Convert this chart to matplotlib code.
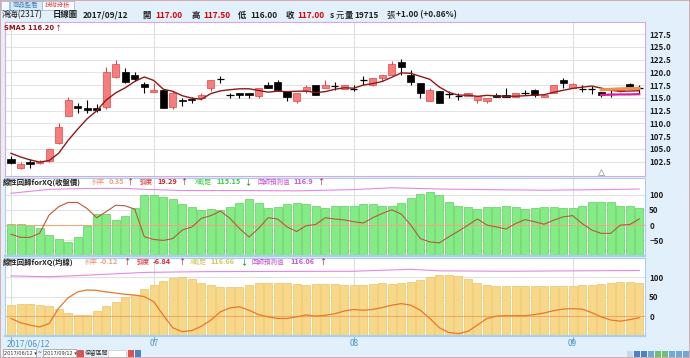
import matplotlib
matplotlib.use('Agg')
import matplotlib.pyplot as plt
from matplotlib.patches import Rectangle
import numpy as np
import pandas as pd

plt.rcParams['font.family'] = ['Noto Sans CJK TC', 'DejaVu Sans']

# daily candles 2017/06/12 - 2017/09/12
opens = [103.0, 101.2, 102.5, 102.3, 102.6, 106.1, 111.5, 113.5, 113.0, 113.0,
         113.3, 119.1, 120.0, 119.5, 117.7, 116.1, 116.6, 113.3, 114.6, 114.8,
         114.9, 116.9, 118.7, 115.6, 116.0, 116.0, 115.4, 117.5, 118.1, 116.4,
         114.4, 116.4, 117.5, 117.0, 117.4, 116.7, 116.7, 118.5, 117.5, 118.9,
         119.5, 122.1, 119.5, 118.0, 114.5, 116.4, 115.8, 115.4, 115.3, 114.6,
         114.5, 115.5, 115.5, 115.1, 115.9, 116.6, 115.1, 116.0, 118.6, 117.0,
         116.8, 116.7, 116.1, 115.7, 116.4, 117.7, 117.0]
highs = [103.6, 102.5, 103.0, 102.8, 105.0, 110.0, 115.1, 114.1, 114.6, 113.9,
         121.0, 122.5, 120.9, 120.0, 118.2, 117.9, 116.6, 116.4, 115.0, 115.1,
         116.0, 118.6, 119.4, 116.0, 116.0, 116.0, 117.0, 118.1, 118.5, 116.4,
         116.0, 117.5, 117.6, 118.5, 118.1, 117.5, 117.5, 119.4, 119.0, 119.6,
         122.2, 122.6, 120.4, 118.0, 117.0, 116.4, 116.4, 116.0, 116.0, 115.4,
         115.0, 116.0, 116.9, 116.0, 116.5, 116.8, 115.6, 117.5, 119.0, 117.9,
         117.5, 117.4, 116.1, 116.5, 117.0, 118.0, 117.5]
lows = [102.0, 101.1, 101.2, 102.0, 102.5, 106.0, 111.5, 112.1, 112.1, 112.3,
        112.9, 119.0, 118.0, 118.3, 116.0, 116.1, 113.0, 112.9, 113.5, 114.0,
        114.7, 116.4, 117.9, 114.9, 114.9, 114.9, 114.9, 117.0, 116.3, 114.5,
        114.0, 116.0, 115.5, 117.0, 116.6, 116.7, 116.4, 117.6, 117.4, 118.4,
        119.5, 119.6, 117.6, 115.0, 114.5, 114.0, 114.9, 114.6, 115.3, 114.1,
        114.0, 115.1, 115.1, 115.1, 115.5, 115.1, 115.1, 116.0, 117.0, 117.0,
        116.2, 115.8, 115.2, 115.2, 116.2, 116.9, 116.0]
closes = [102.2, 102.0, 102.1, 102.4, 104.9, 109.4, 114.6, 113.1, 112.6, 112.7,
          120.0, 121.6, 118.1, 118.8, 117.1, 116.6, 113.0, 116.0, 114.5, 114.7,
          115.6, 118.5, 118.7, 115.6, 115.6, 115.6, 116.9, 117.0, 116.6, 115.1,
          116.0, 117.1, 115.5, 117.5, 117.4, 117.5, 116.7, 118.5, 119.0, 119.5,
          121.6, 121.0, 118.1, 116.0, 116.6, 114.0, 115.8, 115.4, 116.0, 115.4,
          115.0, 115.2, 115.1, 116.0, 115.9, 115.6, 115.6, 117.5, 117.9, 117.8,
          116.8, 116.7, 115.5, 115.7, 116.9, 117.0, 117.0]
prior_closes = [105.5, 105.0, 104.5, 103.5]  # before the window, estimated

# regression overlay on the last 5 days
reg_idx = [62, 63, 64, 65, 66]
reg_close_line = [116.6, 116.7, 116.8, 116.85, 116.9]
reg_ma_line = [115.6, 115.65, 115.7, 115.7, 115.75]

# panel 2: 線性回歸forXQ(收盤價)
close_bars = [2, 3, -1, -9, -32, -44, -56, -39, -3, 35, 35, 16, 31, 55, 98, 98, 91,
              85, 68, 60, 50, 53, 49, 58, 72, 85, 72, 55, 59, 68, 73, 68, 63, 55,
              62, 63, 64, 70, 68, 64, 61, 72, 88, 101, 107, 100, 75, 64, 59, 52,
              60, 60, 62, 58, 52, 55, 60, 59, 55, 55, 64, 75, 77, 74, 64, 62, 56]
close_line = [-30, -40, -40, -27, 33, 60, 74, 74, 54, 24, 44, 65, 63, 52, -38, -47,
              -50, -44, -16, -6, 22, 31, 46, 22, -11, -39, -11, 24, 20, -6, -21,
              -2, 2, 24, 20, 17, 11, 7, 24, 38, 50, 36, 0, -44, -55, -58, -38, -20,
              0, 20, 0, -6, -13, 5, 18, 11, 3, 16, 27, 31, 5, -16, -27, -27, 0, 2, 20]
pink2_idx = [0, 4, 8, 12, 14, 18, 24, 30, 36, 40, 45, 50, 56, 62, 66]
pink2_val = [104, 117, 120, 120, 117, 113, 113, 112, 116, 122, 118, 116, 114, 116, 118]

# panel 3: 線性回歸forXQ(均線)
ma_bars = [28, 30, 30, 29, 25, 18, 8, 2, 4, 14, 27, 37, 50, 55, 69, 79, 90, 98,
           101, 95, 86, 79, 74, 74, 74, 81, 84, 84, 84, 84, 82, 81, 82, 82, 82,
           80, 79, 81, 83, 85, 83, 85, 88, 93, 101, 106, 106, 102, 95, 86, 80,
           78, 78, 77, 77, 77, 77, 77, 77, 77, 79, 81, 83, 86, 87, 87, 84]
ma_line = [-6, -17, -23, -28, -19, 20, 47, 62, 67, 66, 62, 59, 56, 54, 50, 37, 2,
           -30, -40, -37, -26, -10, 11, 21, 24, 15, 4, -2, -6, -6, -2, 3, 0, 2, 6,
           13, 17, 15, 17, 22, 28, 32, 28, 15, -6, -30, -42, -45, -39, -23, -6, 0,
           1, 1, 1, 4, 8, 14, 18, 19, 18, 9, -2, -10, -13, -9, -4]
pink3_idx = [0, 4, 8, 14, 20, 36, 42, 45, 52, 59, 66]
pink3_val = [103, 101, 105, 112, 114, 115, 120, 116, 115, 116, 117]

month_idx = [0, 15, 36, 59]
month_lbl = ['2017/06/12', '07', '08', '09']

W, H = 690, 358
BG = '#e2f0fb'
fig = plt.figure(figsize=(W / 100, H / 100), dpi=100, facecolor=BG)


def px_axes(x0, y0, x1, y1):
    return fig.add_axes([x0 / W, 1 - y1 / H, (x1 - x0) / W, (y1 - y0) / H])


def ftext(x, y, s, **kw):
    kw.setdefault('fontsize', 5.6)
    kw.setdefault('va', 'center')
    fig.text(x / W, 1 - y / H, s, **kw)


n = len(closes)
idx = np.arange(n)
o = np.array(opens)
c = np.array(closes)
hi = np.array(highs)
lo = np.array(lows)
xlim = (-0.63, n - 0.4)

# ---- price panel
ax1 = px_axes(5, 22, 645, 176)
ax1.set_xlim(*xlim)
ax1.set_ylim(99.7, 129.9)
for v in np.arange(102.5, 128, 2.5):
    ax1.axhline(v, color='#e4e4e4', lw=0.8, zorder=0)
for m in month_idx:
    ax1.axvline(m, color='#dedede', lw=0.8, zorder=0)

up = c > o
down = c < o
doji = ~up & ~down
red_fill, red_edge = '#f87c7c', '#d84848'
ax1.vlines(idx[up], lo[up], hi[up], color=red_edge, lw=0.8, zorder=2)
ax1.vlines(idx[~up], lo[~up], hi[~up], color='black', lw=0.8, zorder=2)
ax1.bar(idx[up], (c - o)[up], bottom=o[up], width=0.75, color=red_fill,
        edgecolor=red_edge, lw=0.5, zorder=3)
ax1.bar(idx[down], (o - c)[down], bottom=c[down], width=0.75, color='black',
        edgecolor='black', lw=0.5, zorder=3)
ax1.hlines(c[doji], idx[doji] - 0.38, idx[doji] + 0.38, color='black', lw=0.9, zorder=3)

sma5 = pd.Series(prior_closes + closes).rolling(5).mean().to_numpy()[len(prior_closes):]
ax1.plot(idx, sma5, color='#8b1a1a', lw=1.0, zorder=4)
ax1.plot(reg_idx, reg_close_line, color='#f09050', lw=2.2, zorder=5)
ax1.plot(reg_idx, reg_ma_line, color='#e0209a', lw=1.6, zorder=5)
ax1.plot([reg_idx[0]], [100.5], marker='^', ms=4, mfc='white', mec='#b0b0b0', mew=0.7)

ax1.set_yticks(np.arange(102.5, 128, 2.5))
ax1.set_yticklabels([f'{v:.1f}' for v in np.arange(102.5, 128, 2.5)])
for s in ax1.spines.values():
    s.set_color('#d8a8e0')
ftext(4, 28, 'SMA5 116.20', color='#a01010', fontweight='bold', fontsize=4.9,
      family=['DejaVu Sans'])
ftext(54, 28, '↑', color='#a01010', fontsize=5.0)

# ---- panel 2
ax2 = px_axes(5, 178, 645, 256)
ax2.set_xlim(*xlim)
ax2.set_ylim(-101, 154)
for v in [-50, 50, 100]:
    ax2.axhline(v, color='#e2e2e2', lw=0.8, zorder=0)
for m in month_idx:
    ax2.axvline(m, color='#dedede', lw=0.8, zorder=0)
b2 = ax2.get_ylim()[0]
ax2.bar(idx, np.array(close_bars) - b2, bottom=b2, width=0.84, color='#84ec84',
        edgecolor='#62cc62', lw=0.5, zorder=1)
ax2.axhline(0, color='#f0a878', lw=0.8, zorder=2)
ax2.plot(idx, close_line, color='#b8583c', lw=0.8, zorder=3)
ax2.plot(pink2_idx, pink2_val, color='#e488e4', lw=0.8, zorder=3)
ax2.set_yticks([-50, 0, 50, 100])

# ---- panel 3
ax3 = px_axes(5, 258, 645, 336)
ax3.set_xlim(*xlim)
ax3.set_ylim(-51, 149)
for v in [50, 100]:
    ax3.axhline(v, color='#e2e2e2', lw=0.8, zorder=0)
for m in month_idx:
    ax3.axvline(m, color='#dedede', lw=0.8, zorder=0)
b3 = ax3.get_ylim()[0]
ax3.bar(idx, np.array(ma_bars) - b3, bottom=b3, width=0.84, color='#f7d888',
        edgecolor='#ecc468', lw=0.5, zorder=1)
ax3.axhline(0, color='#f0a868', lw=0.8, zorder=2)
ax3.plot(idx, ma_line, color='#e8782a', lw=0.9, zorder=3)
ax3.plot(pink3_idx, pink3_val, color='#e488e4', lw=0.8, zorder=3)
ax3.set_yticks([0, 50, 100])

for ax in (ax2, ax3):
    for s in ax.spines.values():
        s.set_color('#a8d0ec')
    ax.spines['bottom'].set_linewidth(1.6)

for ax in (ax1, ax2, ax3):
    ax.set_facecolor('white')
    ax.yaxis.tick_right()
    ax.tick_params(axis='y', length=0, pad=3, labelsize=5.8, labelcolor='#202020')
    for t in ax.get_yticklabels():
        t.set_fontweight('bold')
    ax.set_xticks([])

# month labels under the last panel
for m, lbl in zip(month_idx, month_lbl):
    ha = 'left' if m == 0 else 'center'
    xx = m - 0.4 if m == 0 else m
    ax3.text(xx, -0.1, lbl, transform=ax3.get_xaxis_transform(), ha=ha, va='center',
             fontsize=6, color='#4a94c8')
    ax3.plot([m, m], [0, -0.06], transform=ax3.get_xaxis_transform(),
             color='#7ab0d8', lw=0.7, clip_on=False)


# panel headers: CJK words a bit smaller than the numbers
def label_row(y, items):
    for k, (x, s, col, wt) in enumerate(items):
        cjk = any(ord(ch) > 0x2e80 for ch in s)
        size = 5.3 if (k == 0 or not cjk) else 4.7
        ftext(x, y, s, color=col, fontweight=wt, fontsize=size)


label_row(182, [(3, '線性回歸forXQ(收盤價)', '#202020', 'bold'),
                (92, '斜率', '#f4a07a', 'normal'), (109, '0.35', '#f4a07a', 'bold'),
                (126, '↑', '#a01010', 'normal'),
                (140, '弧度', '#e02020', 'normal'), (157, '19.29', '#e02020', 'bold'),
                (180, '↑', '#a01010', 'normal'),
                (195, 'X截距', '#3ccc3c', 'normal'), (216, '115.15', '#3ccc3c', 'bold'),
                (244, '↓', '#107010', 'normal'),
                (258, '回歸預測值', '#d050d0', 'normal'), (293, '116.9', '#d050d0', 'bold'),
                (317, '↑', '#a01010', 'normal')])
label_row(262, [(3, '線性回歸forXQ(均線)', '#202020', 'bold'),
                (85, '斜率', '#f4a07a', 'normal'), (100, '-0.12', '#f4a07a', 'bold'),
                (123, '↑', '#a01010', 'normal'),
                (137, '弧度', '#e02020', 'normal'), (153, '-6.84', '#e02020', 'bold'),
                (178, '↑', '#a01010', 'normal'),
                (190, 'X截距', '#d4c458', 'normal'), (210, '116.66', '#d4c458', 'bold'),
                (240, '↓', '#107010', 'normal'),
                (252, '回歸預測值', '#d050d0', 'normal'), (290, '116.06', '#d050d0', 'bold'),
                (319, '↑', '#a01010', 'normal')])

# top header
hdr = [(2, '鴻海(2317)', '#202020', 'normal'), (53, '日線圖', '#202020', 'bold'),
       (83, '2017/09/12', '#202020', 'bold'), (142, '開', '#202020', 'bold'),
       (155, '117.00', '#e00000', 'bold'), (192, '高', '#202020', 'bold'),
       (203, '117.50', '#e00000', 'bold'), (238, '低', '#202020', 'bold'),
       (250, '116.00', '#202020', 'bold'), (286, '收', '#202020', 'bold'),
       (297, '117.00', '#e00000', 'bold'), (330, 's', '#202020', 'bold'),
       (336, '元', '#202020', 'normal'), (345, '量', '#202020', 'bold'),
       (354, '19715', '#202020', 'bold'), (386, '張', '#202020', 'normal'),
       (396, '+1.00 (+0.86%)', '#202020', 'bold')]
for x, s, col, wt in hdr:
    ftext(x, 15, s, color=col, fontweight=wt, fontsize=6.0)

# tabs
fig.patches.append(Rectangle((1 / W, 1 - 10 / H), 8 / W, 9 / H, transform=fig.transFigure,
                             fc='#f6fbff', ec='#8ab4d4', lw=0.5))
fig.patches.append(Rectangle((10 / W, 1 - 9.5 / H), 32 / W, 8.5 / H, transform=fig.transFigure,
                             fc='#d8eaf8', ec='#8ab4d4', lw=0.5))
fig.patches.append(Rectangle((42 / W, 1 - 9.5 / H), 32 / W, 8.5 / H, transform=fig.transFigure,
                             fc='white', ec='#8ab4d4', lw=0.5))
ftext(13, 5.5, '商品監看', color='#4a84c0', fontsize=4.6)
ftext(45, 5.5, '技術分析', color='#d04040', fontsize=4.6)

# bottom bar
for x0, x1, s in [(3, 36, '2017/06/12 ▾'), (43, 76, '2017/09/12 ▾')]:
    fig.patches.append(Rectangle((x0 / W, 1 - 357 / H), (x1 - x0) / W, 8 / H,
                                 transform=fig.transFigure, fc='white', ec='#909090', lw=0.5))
    ftext(x0 + 1, 353, s, color='#303030', fontsize=3.6, family=['DejaVu Sans'])
ftext(37.5, 353, '~', color='#303030', fontsize=4.5)
fig.patches.append(Rectangle((77 / W, 1 - 357 / H), 6 / W, 7 / H, transform=fig.transFigure,
                             fc='#e05050', ec='#a03030', lw=0.4))
ftext(85, 353, '保留區間', color='#303030', fontsize=4.2)
fig.patches.append(Rectangle((108 / W, 1 - 357 / H), 18 / W, 7 / H, transform=fig.transFigure,
                             fc='white', ec='#c0c0c0', lw=0.4))
for k, col in enumerate(['#e05050', '#4a84c0']):
    fig.patches.append(Rectangle(((128 + 7 * k) / W, 1 - 357 / H), 6 / W, 7 / H,
                                 transform=fig.transFigure, fc=col, ec='none'))
for k, col in enumerate(['#c8d8f0', '#4a84c0', '#4a84c0', '#70a8d8', '#70c070',
                         '#70c070', '#70a8d8', '#70a8d8', '#70a8d8']):
    fig.patches.append(Rectangle(((627 + 7 * k) / W, 1 - 357 / H), 6 / W, 6 / H,
                                 transform=fig.transFigure, fc=col, ec='none'))

fig.patches.append(Rectangle((0, 0), 1, 1, transform=fig.transFigure, fc='none',
                             ec='#d8a0a0', lw=1.2))

fig.savefig('out.png', dpi=100, facecolor=BG)
